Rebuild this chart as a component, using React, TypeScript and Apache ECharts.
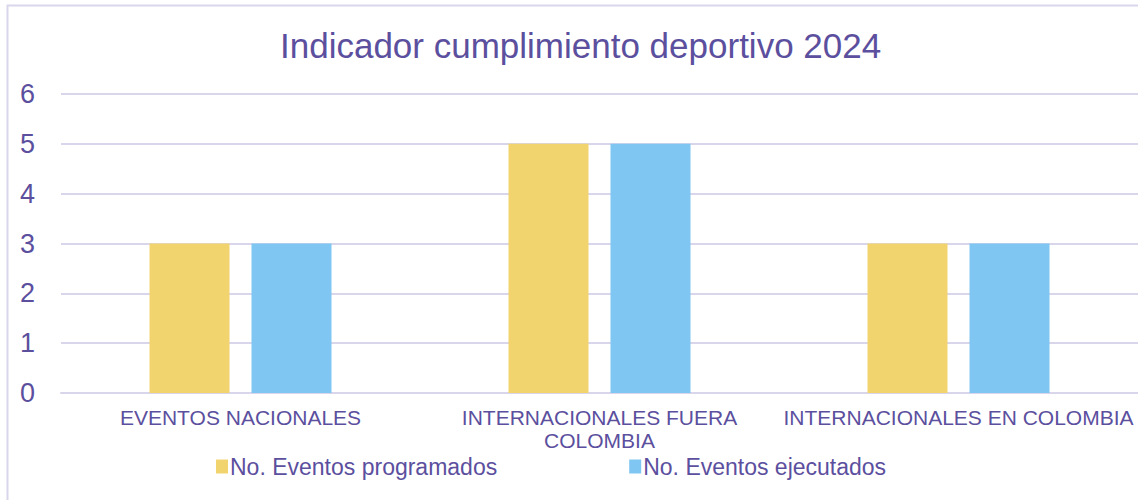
import React, { useEffect, useRef } from "react";
import * as echarts from "echarts";

const categories = ["EVENTOS NACIONALES", "INTERNACIONALES FUERA\nCOLOMBIA", "INTERNACIONALES EN COLOMBIA"];
const programados = [3, 5, 3];
const ejecutados = [3, 5, 3];
const seriesNames = ["No. Eventos programados", "No. Eventos ejecutados"];
const titleText = "Indicador cumplimiento deportivo 2024";

const TEXT = "#5B4F9E";
const FONT = "'Liberation Sans', Arial, sans-serif";

export default function App() {
  const ref = useRef<HTMLDivElement>(null);
  useEffect(() => {
    const chart = echarts.init(ref.current!, null, { renderer: "svg" });
    chart.setOption({
      animation: false,
      backgroundColor: "#fff",
      textStyle: { fontFamily: FONT },
      title: {
        text: titleText,
        left: 275,
        top: 23,
        textStyle: { color: TEXT, fontSize: 35, fontWeight: "normal", fontFamily: FONT },
      },
      graphic: [
        {
          type: "rect",
          shape: { x: 7.5, y: 5.5, width: 1140, height: 520 },
          style: { fill: "none", stroke: "#D9D5EA", lineWidth: 2 },
          silent: true,
          z: -1,
        },
      ],
      legend: {
        data: seriesNames,
        left: 211,
        top: 450,
        itemWidth: 12,
        itemHeight: 14,
        itemGap: 132,
        icon: "rect",
        textStyle: { color: TEXT, fontSize: 23, fontFamily: FONT, padding: [0, 0, 0, -3] },
      },
      grid: { left: 61, right: 0, top: 94, bottom: 107, containLabel: false },
      xAxis: {
        type: "category",
        data: categories,
        axisLine: { lineStyle: { color: "#D9D5EA", width: 2 } },
        axisTick: { show: false },
        axisLabel: { color: TEXT, fontSize: 21, margin: 13, lineHeight: 23, fontFamily: FONT, interval: 0 },
      },
      yAxis: {
        type: "value",
        min: 0,
        max: 6,
        interval: 1,
        axisLine: { show: false },
        axisTick: { show: false },
        splitLine: { lineStyle: { color: "#D9D5EA", width: 2 } },
        axisLabel: { color: TEXT, fontSize: 27, margin: 26, fontFamily: FONT },
      },
      series: [
        {
          name: seriesNames[0],
          type: "bar",
          data: programados,
          barWidth: 80,
          barGap: "27.5%",
          itemStyle: { color: "#F2D46E" },
        },
        {
          name: seriesNames[1],
          type: "bar",
          data: ejecutados,
          barWidth: 80,
          itemStyle: { color: "#7FC6F2" },
        },
      ],
    });
    return () => chart.dispose();
  }, []);
  return <div ref={ref} style={{ position: "fixed", left: 0, top: 0, width: 1138, height: 500 }} />;
}
